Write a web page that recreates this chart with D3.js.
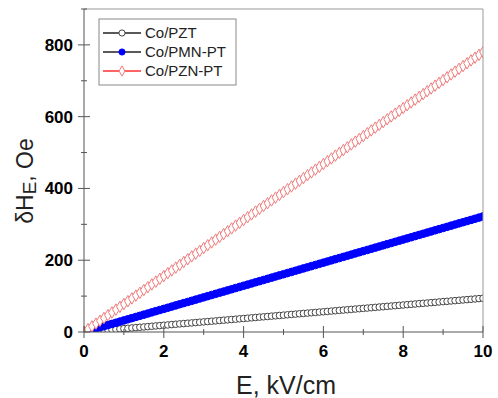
<!DOCTYPE html>
<html>
<meta charset="utf-8">
<style>
body { margin: 0; background: #fff; }
text { font-family: "Liberation Sans", Arial, sans-serif; }
</style>
<script src="https://d3js.org/d3.v7.min.js"></script>
<body>
<div id="chart"></div>
<script>
// E field, kV/cm
var eField = [0, 0.1, 0.2, 0.3, 0.4, 0.5, 0.6, 0.7, 0.8, 0.9,
    1, 1.1, 1.2, 1.3, 1.4, 1.5, 1.6, 1.7, 1.8, 1.9,
    2, 2.1, 2.2, 2.3, 2.4, 2.5, 2.6, 2.7, 2.8, 2.9,
    3, 3.1, 3.2, 3.3, 3.4, 3.5, 3.6, 3.7, 3.8, 3.9,
    4, 4.1, 4.2, 4.3, 4.4, 4.5, 4.6, 4.7, 4.8, 4.9,
    5, 5.1, 5.2, 5.3, 5.4, 5.5, 5.6, 5.7, 5.8, 5.9,
    6, 6.1, 6.2, 6.3, 6.4, 6.5, 6.6, 6.7, 6.8, 6.9,
    7, 7.1, 7.2, 7.3, 7.4, 7.5, 7.6, 7.7, 7.8, 7.9,
    8, 8.1, 8.2, 8.3, 8.4, 8.5, 8.6, 8.7, 8.8, 8.9,
    9, 9.1, 9.2, 9.3, 9.4, 9.5, 9.6, 9.7, 9.8, 9.9, 10];

// dHE, Oe
var coPZT = [0, 0.9, 1.9, 2.8, 3.8, 4.7, 5.6, 6.6, 7.5, 8.5,
    9.4, 10.3, 11.3, 12.2, 13.2, 14.1, 15.0, 16.0, 16.9, 17.9,
    18.8, 19.7, 20.7, 21.6, 22.6, 23.5, 24.4, 25.4, 26.3, 27.3,
    28.2, 29.1, 30.1, 31.0, 32.0, 32.9, 33.8, 34.8, 35.7, 36.7,
    37.6, 38.5, 39.5, 40.4, 41.4, 42.3, 43.2, 44.2, 45.1, 46.1,
    47.0, 47.9, 48.9, 49.8, 50.8, 51.7, 52.6, 53.6, 54.5, 55.5,
    56.4, 57.3, 58.3, 59.2, 60.2, 61.1, 62.0, 63.0, 63.9, 64.9,
    65.8, 66.7, 67.7, 68.6, 69.6, 70.5, 71.4, 72.4, 73.3, 74.3,
    75.2, 76.1, 77.1, 78.0, 79.0, 79.9, 80.8, 81.8, 82.7, 83.7,
    84.6, 85.5, 86.5, 87.4, 88.4, 89.3, 90.2, 91.2, 92.1, 93.1, 94.0];

var coPMNPT = [0, 3.2, 6.4, 9.7, 12.9, 16.1, 19.3, 22.5, 25.8, 29.0,
    32.2, 35.4, 38.6, 41.9, 45.1, 48.3, 51.5, 54.7, 58.0, 61.2,
    64.4, 67.6, 70.8, 74.1, 77.3, 80.5, 83.7, 86.9, 90.2, 93.4,
    96.6, 99.8, 103.0, 106.3, 109.5, 112.7, 115.9, 119.1, 122.4, 125.6,
    128.8, 132.0, 135.2, 138.5, 141.7, 144.9, 148.1, 151.3, 154.6, 157.8,
    161.0, 164.2, 167.4, 170.7, 173.9, 177.1, 180.3, 183.5, 186.8, 190.0,
    193.2, 196.4, 199.6, 202.9, 206.1, 209.3, 212.5, 215.7, 219.0, 222.2,
    225.4, 228.6, 231.8, 235.1, 238.3, 241.5, 244.7, 247.9, 251.2, 254.4,
    257.6, 260.8, 264.0, 267.3, 270.5, 273.7, 276.9, 280.1, 283.4, 286.6,
    289.8, 293.0, 296.2, 299.5, 302.7, 305.9, 309.1, 312.3, 315.6, 318.8, 322.0];

var coPZNPT = [0, 7.8, 15.6, 23.4, 31.2, 39.0, 46.8, 54.6, 62.4, 70.2,
    78, 85.8, 93.6, 101.4, 109.2, 117.0, 124.8, 132.6, 140.4, 148.2,
    156, 163.8, 171.6, 179.4, 187.2, 195.0, 202.8, 210.6, 218.4, 226.2,
    234, 241.8, 249.6, 257.4, 265.2, 273.0, 280.8, 288.6, 296.4, 304.2,
    312, 319.8, 327.6, 335.4, 343.2, 351.0, 358.8, 366.6, 374.4, 382.2,
    390, 397.8, 405.6, 413.4, 421.2, 429.0, 436.8, 444.6, 452.4, 460.2,
    468, 475.8, 483.6, 491.4, 499.2, 507.0, 514.8, 522.6, 530.4, 538.2,
    546, 553.8, 561.6, 569.4, 577.2, 585.0, 592.8, 600.6, 608.4, 616.2,
    624, 631.8, 639.6, 647.4, 655.2, 663.0, 670.8, 678.6, 686.4, 694.2,
    702, 709.8, 717.6, 725.4, 733.2, 741.0, 748.8, 756.6, 764.4, 772.2, 780];

var seriesNames = ["Co/PZT", "Co/PMN-PT", "Co/PZN-PT"];
var xTicks = [0, 2, 4, 6, 8, 10];
var xMinor = [1, 3, 5, 7, 9];
var yTicks = [0, 200, 400, 600, 800];
var yMinor = [100, 300, 500, 700, 900];

var width = 498, height = 398;
var plotLeft = 84, plotRight = 483, plotTop = 9, plotBottom = 332;
var axisColor = "#555";

var svg = d3.select("#chart").append("svg")
    .attr("width", width)
    .attr("height", height);

var x = d3.scaleLinear().domain([0, 10]).range([plotLeft, plotRight]);
var y = d3.scaleLinear().domain([0, 900]).range([plotBottom, plotTop]);

svg.append("clipPath").attr("id", "plot-clip")
    .append("rect")
    .attr("x", plotLeft).attr("y", plotTop)
    .attr("width", plotRight - plotLeft).attr("height", plotBottom - plotTop);

// series styles
var styles = [
    { data: coPZT, shape: d3.symbolCircle, size: 34, fill: "#fff", stroke: "#444", line: "#222" },
    { data: coPMNPT, shape: d3.symbolCircle, size: 46, fill: "#0000ff", stroke: "#0000ff", line: "#222" },
    { data: coPZNPT, shape: d3.symbolDiamond, size: 38, fill: "#fff", stroke: "#f07a7a", line: "#ff3030" }
];

var plot = svg.append("g").attr("clip-path", "url(#plot-clip)");

styles.forEach(function(s) {
    plot.append("g").selectAll("path")
        .data(eField.map(function(e, i) { return [e, s.data[i]]; }))
        .enter()
        .append("path")
        .attr("transform", function(d) { return "translate(" + x(d[0]) + "," + y(d[1]) + ")"; })
        .attr("d", d3.symbol().type(s.shape).size(s.size))
        .attr("fill", s.fill)
        .attr("stroke", s.stroke)
        .attr("stroke-width", 1);
});

// frame
var frame = svg.append("g").attr("stroke", axisColor).attr("fill", "none");
frame.append("line").attr("x1", plotLeft).attr("x2", plotRight).attr("y1", plotTop).attr("y2", plotTop).attr("stroke", "#999");
frame.append("line").attr("x1", plotRight).attr("x2", plotRight).attr("y1", plotTop).attr("y2", plotBottom).attr("stroke", "#999");
frame.append("line").attr("x1", plotLeft).attr("x2", plotLeft).attr("y1", plotTop).attr("y2", plotBottom);
frame.append("line").attr("x1", plotLeft).attr("x2", plotRight).attr("y1", plotBottom).attr("y2", plotBottom);

// ticks cross the axis
frame.selectAll(".xmaj").data(xTicks).enter().append("line")
    .attr("x1", function(d) { return x(d); }).attr("x2", function(d) { return x(d); })
    .attr("y1", plotBottom - 6).attr("y2", plotBottom + 6);
frame.selectAll(".xmin").data(xMinor).enter().append("line")
    .attr("x1", function(d) { return x(d); }).attr("x2", function(d) { return x(d); })
    .attr("y1", plotBottom - 3).attr("y2", plotBottom + 3);
frame.selectAll(".ymaj").data(yTicks).enter().append("line")
    .attr("y1", function(d) { return y(d); }).attr("y2", function(d) { return y(d); })
    .attr("x1", plotLeft - 6).attr("x2", plotLeft + 6);
frame.selectAll(".ymin").data(yMinor).enter().append("line")
    .attr("y1", function(d) { return y(d); }).attr("y2", function(d) { return y(d); })
    .attr("x1", plotLeft - 3).attr("x2", plotLeft + 3);

svg.append("g").selectAll("text").data(xTicks).enter().append("text")
    .attr("x", function(d) { return x(d); })
    .attr("y", 357)
    .attr("text-anchor", "middle")
    .attr("font-size", 17).attr("font-weight", "bold")
    .text(function(d) { return d; });

svg.append("g").selectAll("text").data(yTicks).enter().append("text")
    .attr("x", 73)
    .attr("y", function(d) { return y(d) + 6; })
    .attr("text-anchor", "end")
    .attr("font-size", 17).attr("font-weight", "bold")
    .text(function(d) { return d; });

// axis titles
svg.append("text")
    .attr("x", 286).attr("y", 394)
    .attr("text-anchor", "middle")
    .attr("font-size", 25)
    .attr("fill", "#222")
    .text("E, kV/cm");

var yTitle = svg.append("text")
    .attr("transform", "translate(33,181) rotate(-90)")
    .attr("text-anchor", "middle")
    .attr("font-size", 23)
    .attr("fill", "#222");
yTitle.append("tspan").text("δH");
yTitle.append("tspan").attr("dy", 3).attr("font-size", 19).text("E");
yTitle.append("tspan").attr("dy", -3).text(", Oe");

// legend
var legend = svg.append("g");
legend.append("rect")
    .attr("x", 99).attr("y", 19).attr("width", 137).attr("height", 66)
    .attr("fill", "#fff").attr("stroke", "#888");
styles.forEach(function(s, i) {
    var ly = 33 + i * 19;
    legend.append("line")
        .attr("x1", 103).attr("x2", 141).attr("y1", ly).attr("y2", ly)
        .attr("stroke", s.line).attr("stroke-width", 1.5);
    legend.append("path")
        .attr("transform", "translate(122," + ly + ")")
        .attr("d", d3.symbol().type(s.shape).size(30))
        .attr("fill", s.fill).attr("stroke", s.stroke);
    legend.append("text")
        .attr("x", 145).attr("y", ly + 5)
        .attr("font-size", 15)
        .attr("fill", "#222")
        .text(seriesNames[i]);
});
</script>
</body>
</html>
